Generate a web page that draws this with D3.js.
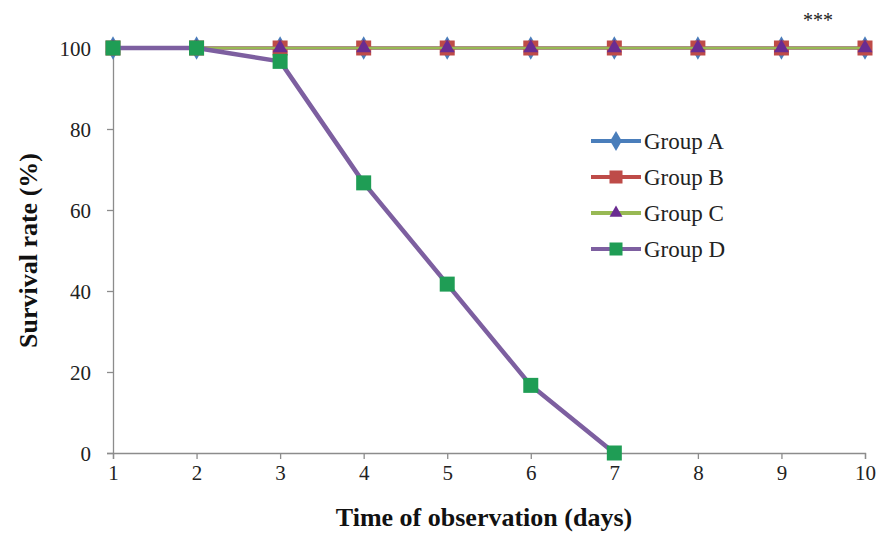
<!DOCTYPE html>
<html>
<head>
<meta charset="utf-8">
<script src="https://cdn.jsdelivr.net/npm/d3@7"></script>
<style>
  body { margin: 0; background: #fff; }
  svg text { font-family: "Liberation Serif", "Times New Roman", serif; }
</style>
</head>
<body>
<svg width="880" height="533"></svg>
<script>
const days = [1, 2, 3, 4, 5, 6, 7, 8, 9, 10];
const groupA = [100, 100, 100, 100, 100, 100, 100, 100, 100, 100];
const groupB = [100, 100, 100, 100, 100, 100, 100, 100, 100, 100];
const groupC = [100, 100, 100, 100, 100, 100, 100, 100, 100, 100];
const groupD = [100, 100, 96.7, 66.7, 41.7, 16.7, 0];
const yTicks = [0, 20, 40, 60, 80, 100];

const series = [
  { name: "Group A", values: groupA, line: "#4a7ebb", fill: "#4a7ebb", marker: "diamond", width: 3 },
  { name: "Group B", values: groupB, line: "#be4b48", fill: "#be4b48", marker: "square", width: 3 },
  { name: "Group C", values: groupC, line: "#98b954", fill: "#6a2c91", marker: "triangle", width: 2.5 },
  { name: "Group D", values: groupD, line: "#7d5fa0", fill: "#1f9d55", marker: "square", width: 4.5 }
];

const svg = d3.select("svg");
const margin = { left: 113, right: 15, top: 48, bottom: 80 };
const width = +svg.attr("width");
const height = +svg.attr("height");

const x = d3.scaleLinear().domain([1, 10]).range([margin.left, width - margin.right]);
const y = d3.scaleLinear().domain([0, 100]).range([height - margin.bottom, margin.top]);

// axes
const xAxis = svg.append("g")
    .attr("transform", `translate(0,${y(0)})`)
    .call(d3.axisBottom(x).tickValues(days).tickFormat(d3.format("d")).tickSize(6).tickPadding(6));
const yAxis = svg.append("g")
    .attr("transform", `translate(${x(1)},0)`)
    .call(d3.axisLeft(y).tickValues(yTicks).tickSize(6).tickPadding(16));

[xAxis, yAxis].forEach(a => {
  a.select(".domain").attr("stroke", "#8c8c8c").attr("stroke-width", 1.3);
  a.selectAll(".tick line").attr("stroke", "#8c8c8c").attr("stroke-width", 1.3);
  a.selectAll(".tick text").attr("fill", "#222").style("font-size", "21px")
    .style("font-family", "'Liberation Serif', serif");
});
yAxis.selectAll(".tick text").attr("dy", "0.35em");

svg.append("text")
    .attr("x", 484)
    .attr("y", 526)
    .attr("text-anchor", "middle")
    .attr("font-weight", "bold")
    .style("font-size", "26px")
    .attr("fill", "#111")
    .text("Time of observation (days)");

svg.append("text")
    .attr("transform", `translate(37,${(y(0) + y(100)) / 2}) rotate(-90)`)
    .attr("text-anchor", "middle")
    .attr("font-weight", "bold")
    .style("font-size", "26px")
    .attr("fill", "#111")
    .text("Survival rate (%)");

svg.append("text")
    .attr("x", 818)
    .attr("y", 27)
    .attr("text-anchor", "middle")
    .style("font-size", "20px")
    .attr("fill", "#222")
    .text("***");

const line = d3.line().x((d, i) => x(days[i])).y(d => y(d));

function drawMarker(g, type, fill, size) {
  if (type === "square") {
    g.append("rect").attr("x", -size / 2).attr("y", -size / 2)
      .attr("width", size).attr("height", size).attr("fill", fill);
  } else if (type === "diamond") {
    g.append("path").attr("d", d3.symbol(d3.symbolDiamond, size * size * 0.7)()).attr("fill", fill);
  } else if (type === "triangle") {
    g.append("path").attr("d", d3.symbol(d3.symbolTriangle, size * size * 0.5)()).attr("fill", fill);
  }
}

series.forEach(s => {
  const g = svg.append("g");
  g.append("path")
    .datum(s.values)
    .attr("fill", "none")
    .attr("stroke", s.line)
    .attr("stroke-width", s.width)
    .attr("stroke-linejoin", "round")
    .attr("d", line);
  s.values.forEach((v, i) => {
    const m = g.append("g").attr("transform", `translate(${x(days[i])},${y(v)})`);
    drawMarker(m, s.marker, s.fill, s.marker === "triangle" ? 14 : 15);
  });
});

// legend
const legend = svg.append("g");
series.forEach((s, i) => {
  const ly = 141 + i * 36;
  const lg = legend.append("g");
  lg.append("line")
    .attr("x1", 591).attr("x2", 641)
    .attr("y1", ly).attr("y2", ly)
    .attr("stroke", s.line).attr("stroke-width", 4);
  const m = lg.append("g").attr("transform", `translate(616,${ly})`);
  drawMarker(m, s.marker, s.fill, s.marker === "triangle" ? 12 : 13);
  lg.append("text")
    .attr("x", 644).attr("y", ly)
    .attr("dy", "0.35em")
    .style("font-size", "23px")
    .attr("fill", "#222")
    .text(s.name);
});
</script>
</body>
</html>
